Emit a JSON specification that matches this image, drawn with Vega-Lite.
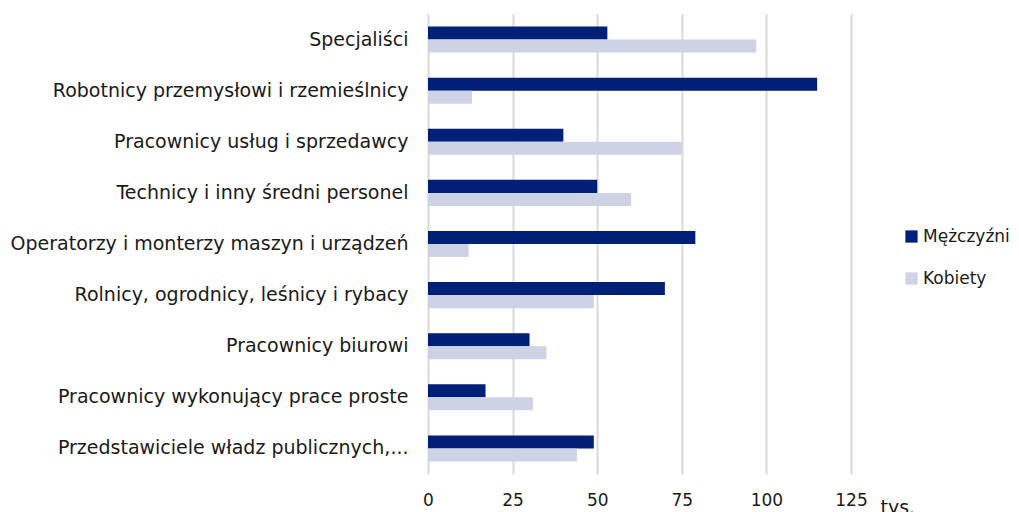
{
  "$schema": "https://vega.github.io/schema/vega-lite/v6.json",
  "autosize": "none",
  "padding": {"left": 428, "top": 14, "right": 168, "bottom": 38},
  "width": 423,
  "height": 460,
  "background": "white",
  "config": {"view": {"stroke": null}, "font": "DejaVu Sans"},
  "data": {"values": [
    {"zawod": "Specjaliści", "plec": "Mężczyźni", "wartosc": 53},
    {"zawod": "Specjaliści", "plec": "Kobiety", "wartosc": 97},
    {"zawod": "Robotnicy przemysłowi i rzemieślnicy", "plec": "Mężczyźni", "wartosc": 115},
    {"zawod": "Robotnicy przemysłowi i rzemieślnicy", "plec": "Kobiety", "wartosc": 13},
    {"zawod": "Pracownicy usług i sprzedawcy", "plec": "Mężczyźni", "wartosc": 40},
    {"zawod": "Pracownicy usług i sprzedawcy", "plec": "Kobiety", "wartosc": 75},
    {"zawod": "Technicy i inny średni personel", "plec": "Mężczyźni", "wartosc": 50},
    {"zawod": "Technicy i inny średni personel", "plec": "Kobiety", "wartosc": 60},
    {"zawod": "Operatorzy i monterzy maszyn i urządzeń", "plec": "Mężczyźni", "wartosc": 79},
    {"zawod": "Operatorzy i monterzy maszyn i urządzeń", "plec": "Kobiety", "wartosc": 12},
    {"zawod": "Rolnicy, ogrodnicy, leśnicy i rybacy", "plec": "Mężczyźni", "wartosc": 70},
    {"zawod": "Rolnicy, ogrodnicy, leśnicy i rybacy", "plec": "Kobiety", "wartosc": 49},
    {"zawod": "Pracownicy biurowi", "plec": "Mężczyźni", "wartosc": 30},
    {"zawod": "Pracownicy biurowi", "plec": "Kobiety", "wartosc": 35},
    {"zawod": "Pracownicy wykonujący prace proste", "plec": "Mężczyźni", "wartosc": 17},
    {"zawod": "Pracownicy wykonujący prace proste", "plec": "Kobiety", "wartosc": 31},
    {"zawod": "Przedstawiciele władz publicznych,...", "plec": "Mężczyźni", "wartosc": 49},
    {"zawod": "Przedstawiciele władz publicznych,...", "plec": "Kobiety", "wartosc": 44}
  ]},
  "mark": {"type": "bar"},
  "encoding": {
    "y": {
      "field": "zawod", "type": "nominal", "sort": null,
      "scale": {"paddingInner": 0.49, "paddingOuter": 0.245},
      "axis": {"title": null, "domain": false, "ticks": false, "labelFontSize": 19, "labelColor": "#1a1a1a", "labelPadding": 20, "labelLimit": 450}
    },
    "yOffset": {"field": "plec", "type": "nominal", "sort": ["Mężczyźni", "Kobiety"], "scale": {"paddingInner": 0, "paddingOuter": 0}},
    "x": {
      "field": "wartosc", "type": "quantitative",
      "scale": {"domain": [0, 125], "nice": false},
      "axis": {
        "values": [0, 25, 50, 75, 100, 125],
        "grid": true, "gridColor": "#d9d9d9", "gridWidth": 2,
        "domain": false, "ticks": false, "labelFlush": false,
        "labelFontSize": 17, "labelColor": "#1a1a1a", "labelPadding": 18,
        "title": "tys.", "titleFontSize": 19, "titleFontWeight": "normal", "titleColor": "#1a1a1a",
        "titleX": 452, "titleY": 24, "titleAlign": "left", "titleBaseline": "top"
      }
    },
    "color": {
      "field": "plec", "type": "nominal",
      "scale": {"domain": ["Mężczyźni", "Kobiety"], "range": ["#001f77", "#cdd2e5"]},
      "legend": {
        "title": null, "orient": "none", "legendX": 475, "legendY": 214,
        "symbolType": "square", "symbolSize": 150, "symbolStrokeWidth": 0,
        "labelFontSize": 17, "labelColor": "#1a1a1a", "rowPadding": 24, "labelOffset": 3
      }
    }
  }
}
